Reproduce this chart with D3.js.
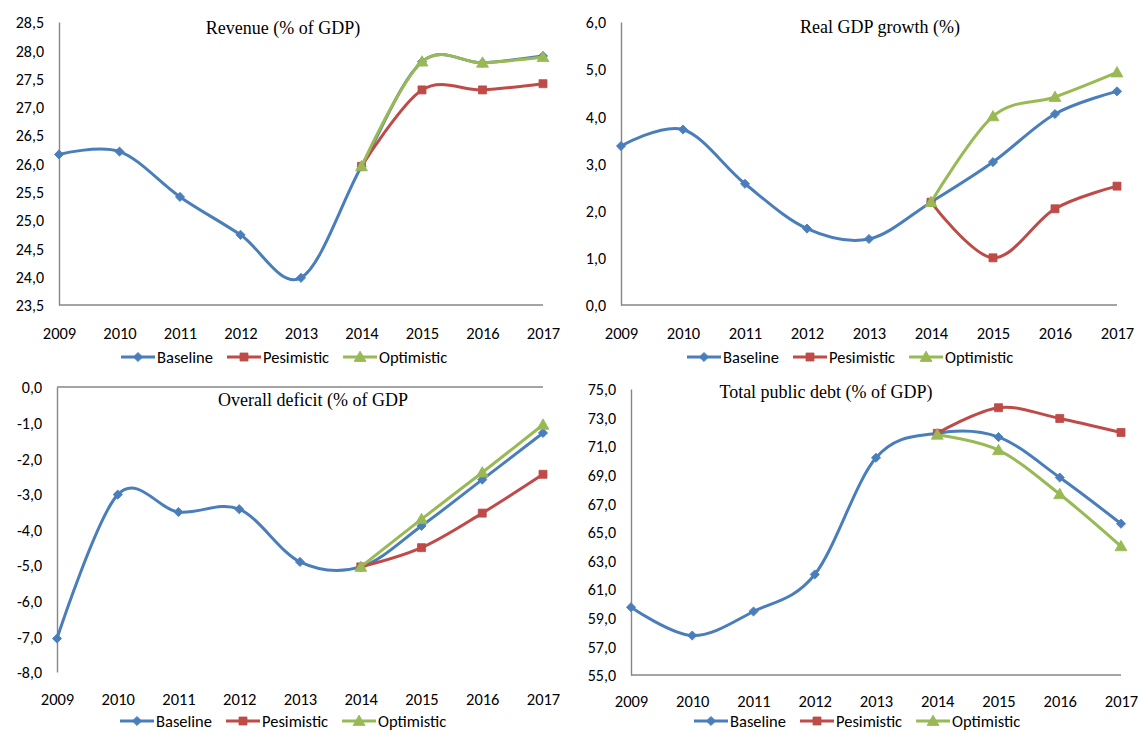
<!DOCTYPE html>
<html>
<head>
<meta charset="utf-8">
<script src="https://cdn.jsdelivr.net/npm/d3@7"></script>
<style>
  html, body { margin: 0; padding: 0; background: #fff; }
  svg { display: block; }
  .tick text, .yr, .leg { font-family: Carlito, Lato, "Liberation Sans", sans-serif; fill: #000; }
  .ttl { font-family: "Liberation Serif", "DejaVu Serif", serif; fill: #000; }
</style>
</head>
<body>
<svg id="chart" width="1138" height="732"></svg>
<script>
// Years on the horizontal axis and the projection years of the scenarios
const years = ["2009", "2010", "2011", "2012", "2013", "2014", "2015", "2016", "2017"];
const scenarioYears = ["2014", "2015", "2016", "2017"];
const seriesNames = ["Baseline", "Pesimistic", "Optimistic"];

// Revenue (% of GDP)
const revenueBaseline = [26.16, 26.21, 25.41, 24.74, 23.98, 25.95, 27.80, 27.78, 27.90];
const revenuePesimistic = [25.95, 27.30, 27.30, 27.41];
const revenueOptimistic = [25.95, 27.80, 27.78, 27.88];
const revenueTicks = ["23,5", "24,0", "24,5", "25,0", "25,5", "26,0", "26,5", "27,0", "27,5", "28,0", "28,5"];

// Real GDP growth (%)
const growthBaseline = [3.37, 3.72, 2.57, 1.62, 1.40, 2.18, 3.03, 4.05, 4.53];
const growthPesimistic = [2.18, 1.00, 2.04, 2.52];
const growthOptimistic = [2.18, 4.00, 4.41, 4.93];
const growthTicks = ["0,0", "1,0", "2,0", "3,0", "4,0", "5,0", "6,0"];

// Overall deficit (% of GDP)
const deficitBaseline = [-7.06, -3.02, -3.51, -3.43, -4.91, -5.05, -3.90, -2.60, -1.29];
const deficitPesimistic = [-5.05, -4.51, -3.54, -2.45];
const deficitOptimistic = [-5.05, -3.71, -2.40, -1.06];
const deficitTicks = ["-8,0", "-7,0", "-6,0", "-5,0", "-4,0", "-3,0", "-2,0", "-1,0", "0,0"];

// Total public debt (% of GDP)
const debtBaseline = [59.74, 57.76, 59.44, 62.03, 70.19, 71.90, 71.64, 68.81, 65.58];
const debtPesimistic = [71.90, 73.69, 72.94, 71.96];
const debtOptimistic = [71.80, 70.72, 67.64, 64.00];
const debtTicks = ["55,0", "57,0", "59,0", "61,0", "63,0", "65,0", "67,0", "69,0", "71,0", "73,0", "75,0"];

const colors = { Baseline: "#4A7EBB", Pesimistic: "#BE4B48", Optimistic: "#98B954" };
const axisColor = "#868686";

const toNum = s => +s.replace(",", ".");

// Layout of each panel on the page
const panels = [
  { title: "Revenue (% of GDP)", base: revenueBaseline, pes: revenuePesimistic, opt: revenueOptimistic, ticks: revenueTicks,
    left: 59, right: 543, top: 22, bottom: 305, titleX: 283, titleY: 28, yearY: 333, legendX: 121, legendY: 357 },
  { title: "Real GDP growth (%)", base: growthBaseline, pes: growthPesimistic, opt: growthOptimistic, ticks: growthTicks,
    left: 621, right: 1117, top: 22, bottom: 305, titleX: 880, titleY: 27, yearY: 333, legendX: 687, legendY: 357 },
  { title: "Overall deficit (% of GDP", base: deficitBaseline, pes: deficitPesimistic, opt: deficitOptimistic, ticks: deficitTicks,
    left: 57, right: 543, top: 387, bottom: 672, titleX: 313, titleY: 400, yearY: 699, legendX: 120, legendY: 721 },
  { title: "Total public debt (% of GDP)", base: debtBaseline, pes: debtPesimistic, opt: debtOptimistic, ticks: debtTicks,
    left: 631, right: 1121, top: 389, bottom: 675, titleX: 826, titleY: 392, yearY: 701, legendX: 694, legendY: 721 }
];

const svg = d3.select("#chart");

const symbols = {
  Baseline: d3.symbol().type(d3.symbolSquare).size(42),
  Pesimistic: d3.symbol().type(d3.symbolSquare).size(64),
  Optimistic: d3.symbol().type(d3.symbolTriangle).size(62)
};
const symbolRotate = { Baseline: 45, Pesimistic: 0, Optimistic: 0 };
const symbolDy = { Baseline: 0, Pesimistic: 0, Optimistic: 1 };

function drawMarker(g, name, cx, cy) {
  g.append("path")
    .attr("d", symbols[name]())
    .attr("transform", `translate(${cx},${cy + symbolDy[name]}) rotate(${symbolRotate[name]})`)
    .attr("fill", colors[name])
    .attr("stroke", colors[name])
    .attr("stroke-width", 0.8);
}

panels.forEach(p => {
  const g = svg.append("g");
  const tickVals = p.ticks.map(toNum);
  const lo = d3.min(tickVals), hi = d3.max(tickVals);

  const x = d3.scalePoint().domain(years).range([p.left, p.right]);
  const y = d3.scaleLinear().domain([lo, hi]).range([p.bottom, p.top]);

  // Vertical axis with comma-decimal labels
  const yAxis = d3.axisLeft(y)
    .tickValues(tickVals)
    .tickFormat((d, i) => p.ticks[i])
    .tickSize(0).tickSizeOuter(0).tickPadding(15);
  const ya = g.append("g").attr("transform", `translate(${p.left},0)`).call(yAxis);
  ya.select(".domain").attr("stroke", axisColor).attr("stroke-width", 1.4);
  ya.selectAll(".tick text").attr("font-size", 16).attr("dy", "0.36em");

  // Horizontal axis line crosses at zero when zero is inside the range
  const cross = (lo <= 0 && hi >= 0) ? 0 : lo;
  g.append("line")
    .attr("x1", p.left).attr("x2", p.right)
    .attr("y1", y(cross)).attr("y2", y(cross))
    .attr("stroke", axisColor).attr("stroke-width", 1.4);

  // Year labels along the bottom
  const xAxis = d3.axisBottom(x).tickSize(0).tickSizeOuter(0).tickPadding(0);
  const xa = g.append("g").attr("transform", `translate(0,${p.yearY})`).call(xAxis);
  xa.select(".domain").remove();
  xa.selectAll(".tick text").attr("font-size", 16.5).attr("dy", "0.36em").attr("y", 0);

  // Title
  g.append("text").attr("class", "ttl")
    .attr("x", p.titleX).attr("y", p.titleY).attr("dy", "0.35em")
    .attr("text-anchor", "middle").attr("font-size", 18)
    .text(p.title);

  // Smoothed lines
  const line = d3.line()
    .x(d => x(d.year)).y(d => y(d.value))
    .curve(d3.curveCatmullRom.alpha(0));

  const series = [
    { name: "Baseline", pts: years.map((yr, i) => ({ year: yr, value: p.base[i] })) },
    { name: "Pesimistic", pts: scenarioYears.map((yr, i) => ({ year: yr, value: p.pes[i] })) },
    { name: "Optimistic", pts: scenarioYears.map((yr, i) => ({ year: yr, value: p.opt[i] })) }
  ];

  series.forEach(s => {
    g.append("path")
      .attr("d", line(s.pts))
      .attr("fill", "none")
      .attr("stroke", colors[s.name])
      .attr("stroke-width", 3)
      .attr("stroke-linejoin", "round")
      .attr("stroke-linecap", "round");
    s.pts.forEach(pt => drawMarker(g, s.name, x(pt.year), y(pt.value)));
  });

  // Legend
  let lx = p.legendX;
  seriesNames.forEach(name => {
    g.append("line")
      .attr("x1", lx).attr("x2", lx + 34)
      .attr("y1", p.legendY).attr("y2", p.legendY)
      .attr("stroke", colors[name]).attr("stroke-width", 3);
    drawMarker(g, name, lx + 17, p.legendY);
    const t = g.append("text").attr("class", "leg")
      .attr("x", lx + 36).attr("y", p.legendY).attr("dy", "0.36em")
      .attr("font-size", 16.5)
      .text(name);
    lx += 36 + t.node().getComputedTextLength() + 14;
  });
});
</script>
</body>
</html>
